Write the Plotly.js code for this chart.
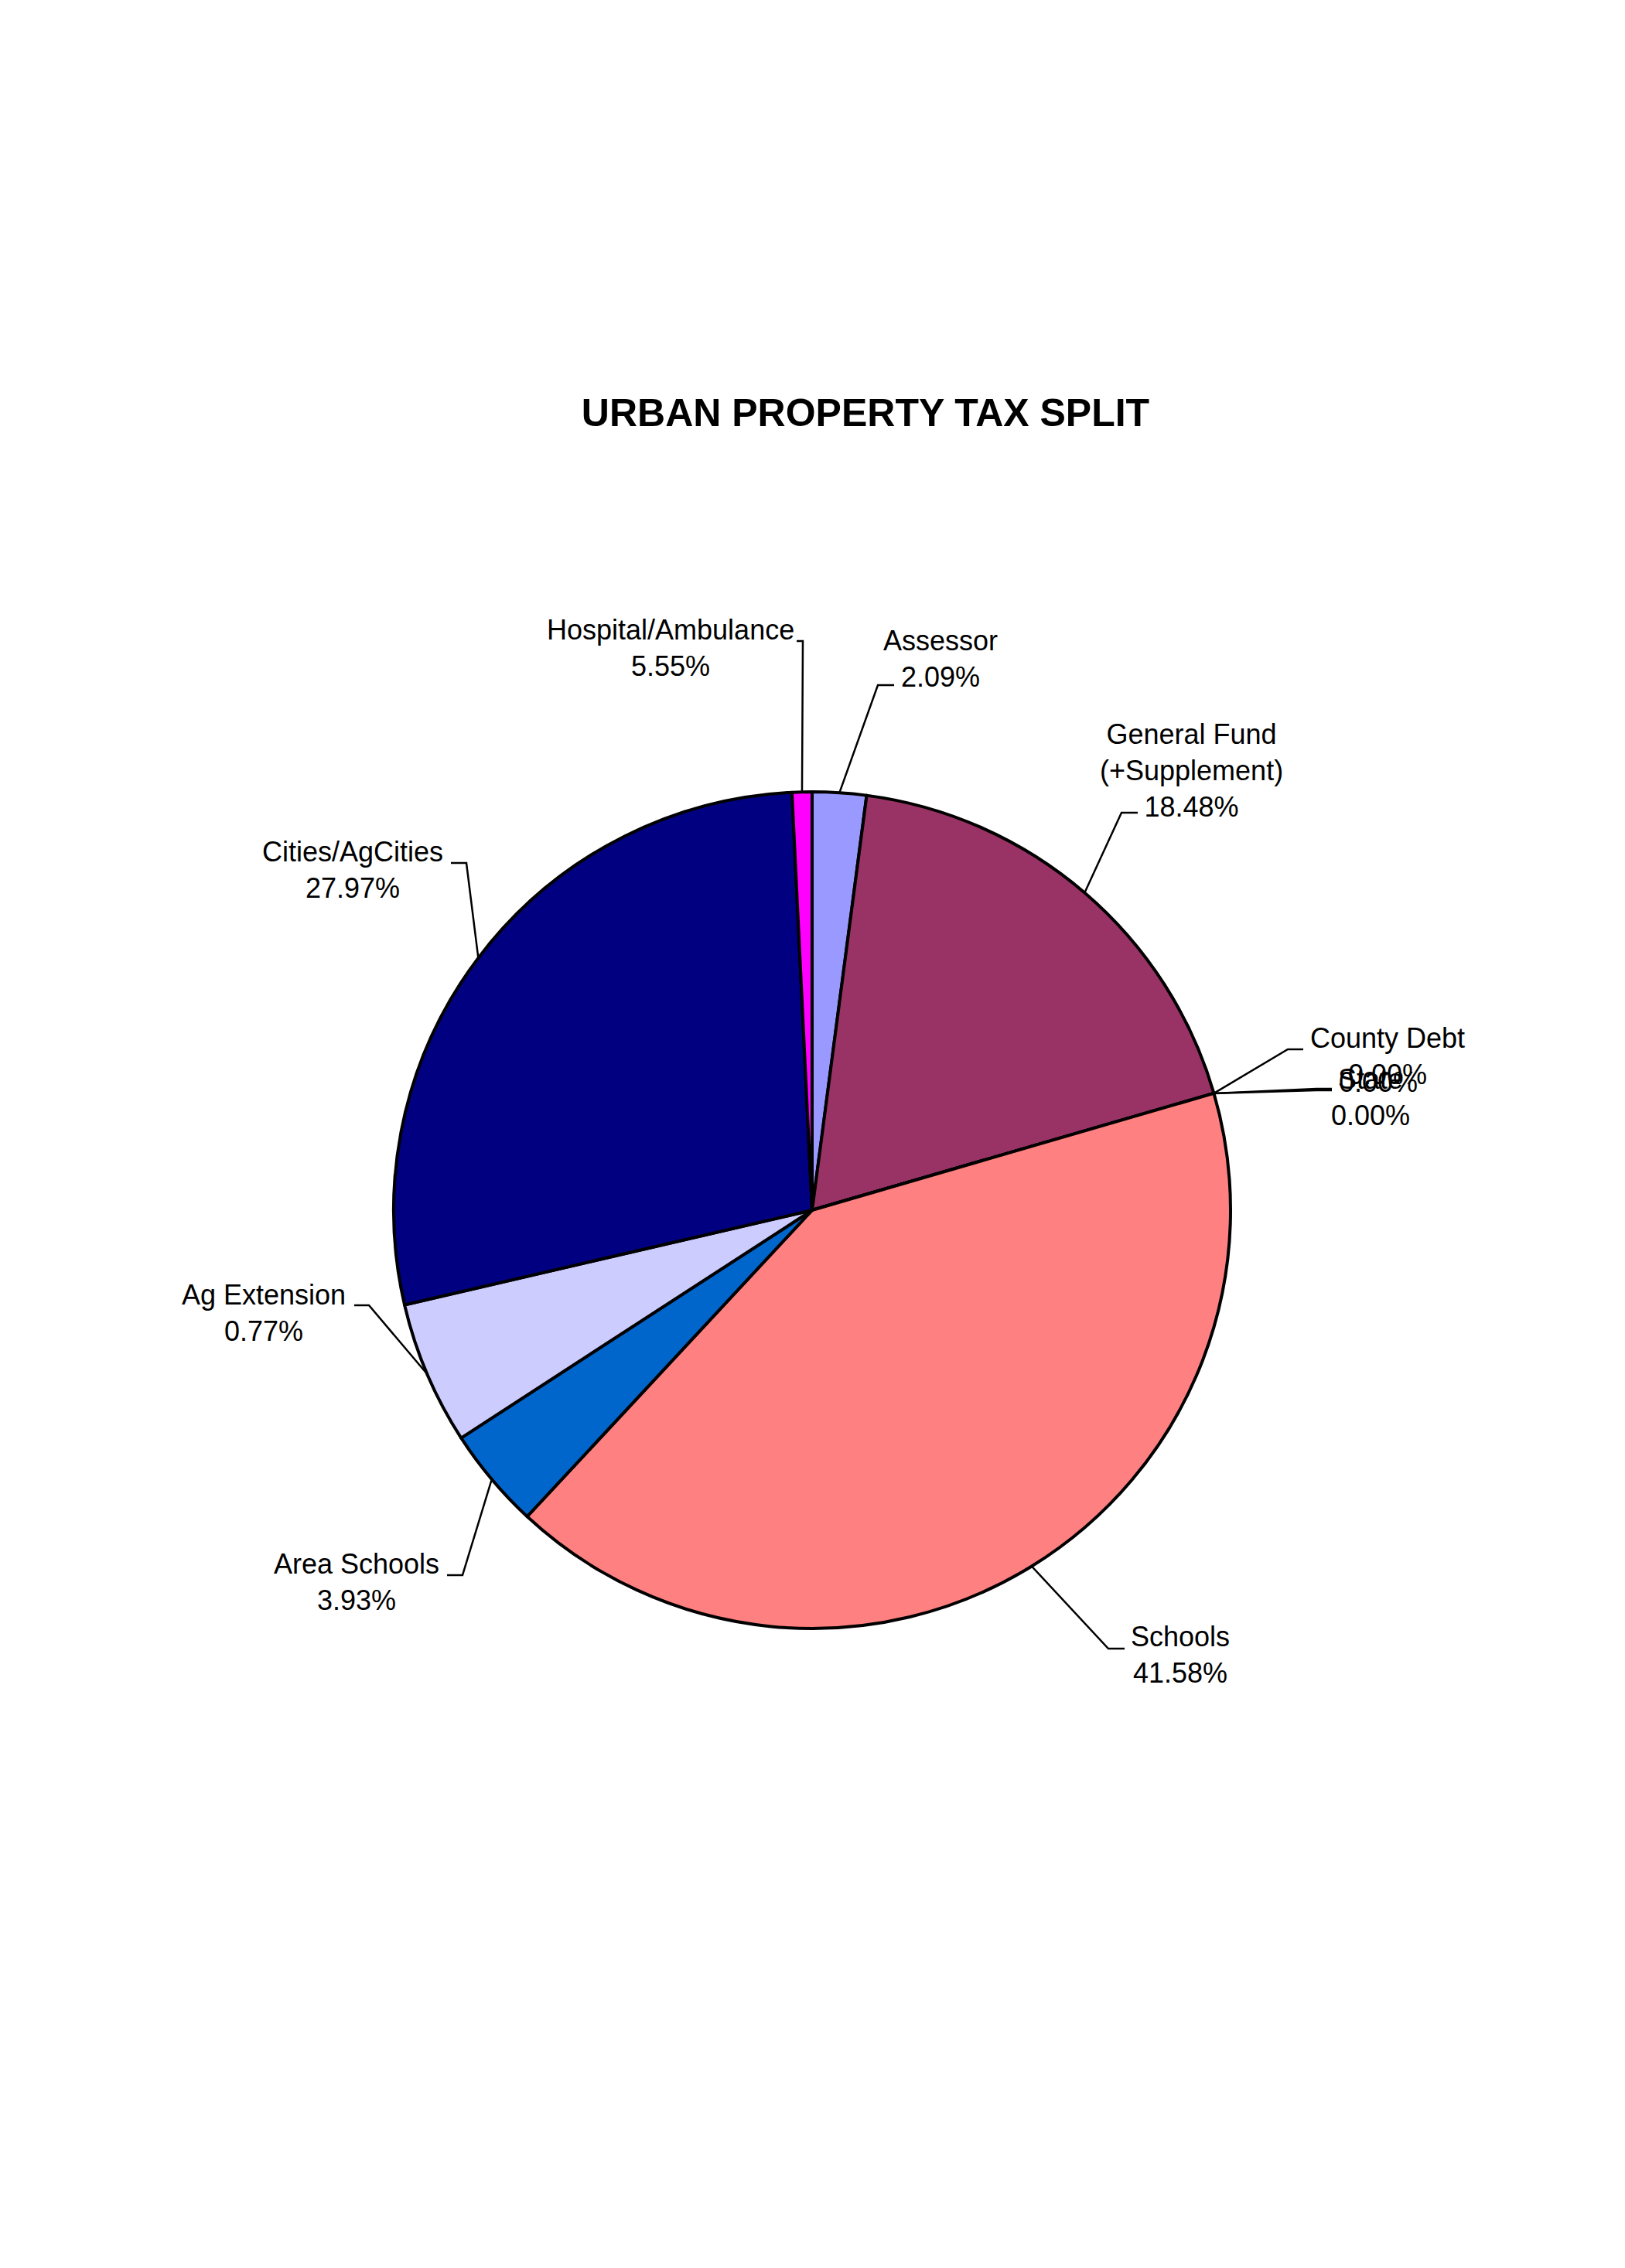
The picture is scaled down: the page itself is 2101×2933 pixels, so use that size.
<!DOCTYPE html>
<html>
<head>
<meta charset="utf-8">
<script src="https://cdn.plot.ly/plotly-3.0.1.min.js"></script>
<style>
  html, body { margin: 0; padding: 0; background: #ffffff; }
  #taxpie { width: 2101px; height: 2933px; }
</style>
</head>
<body>
<div id="taxpie"></div>
<script>
//          chart data (slice order, clockwise from 12 o'clock)
var names = ['Assessor', 'General Fund<br>(+Supplement)', 'County Debt', 'State', '',
             'Schools', 'Area Schools', 'Ag Extension', 'Cities/AgCities', 'Hospital/Ambulance'];
var shares = [2.09, 18.48, 0, 0, 0, 41.58, 3.93, 5.55, 27.97, 0.77];
// percentages as printed on the labels (two of them are swapped in the original)
var shownPct = ['2.09%', '18.48%', '0.00%', '0.00%', '0.00%',
                '41.58%', '3.93%', '0.77%', '27.97%', '5.55%'];
var colors = ['#9999FF', '#993366', '#FFFFCC', '#CCFFFF', '#660066',
              '#FF8080', '#0066CC', '#CCCCFF', '#000080', '#FF00FF'];

//          layout (pixels)
var W = 2101, H = 2933;
var cx = 1050, cy = 1565, R = 541;
var font = 'Liberation Sans, Arial, sans-serif';

// label block centre, leader elbow and leader end (at the text)
var labelAt = [[1216, 852], [1540, 996], [1794, 1366], [1772, 1419], [1782, 1400],
               [1526, 2140], [461, 2046], [341, 1698], [456, 1125], [867, 838]];
var elbowAt = [[1135, 886], [1450, 1051], [1665, 1357], [1702, 1410], [1702, 1408],
               [1433, 2132], [598, 2037], [477, 1688], [603, 1116], [1038, 829]];
var endAt   = [[1156, 886], [1471, 1051], [1685, 1357], [1722, 1410], [1722, 1408],
               [1454, 2132], [578, 2037], [458, 1688], [583, 1116], [1030, 829]];

function px(x) { return x / W; }
function py(y) { return 1 - y / H; }

var total = shares.reduce(function (a, b) { return a + b; }, 0);
var annotations = [];
var shapes = [];
var cum = 0;
for (var i = 0; i < shares.length; i++) {
  var mid = 2 * Math.PI * (cum + shares[i] / 2) / total;
  cum += shares[i];
  var ex = cx + R * Math.sin(mid);
  var ey = cy - R * Math.cos(mid);

  annotations.push({
    xref: 'paper', yref: 'paper',
    x: px(labelAt[i][0]), y: py(labelAt[i][1]),
    xanchor: 'center', yanchor: 'middle',
    text: names[i] ? names[i] + '<br>' + shownPct[i] : shownPct[i],
    showarrow: false, align: 'center',
    font: { family: font, size: 36, color: '#000000' }
  });

  shapes.push({
    type: 'path', xref: 'paper', yref: 'paper',
    path: 'M' + px(ex) + ',' + py(ey) +
          ' L' + px(elbowAt[i][0]) + ',' + py(elbowAt[i][1]) +
          ' L' + px(endAt[i][0]) + ',' + py(endAt[i][1]),
    line: { color: '#000000', width: 2.5 }
  });
}

var trace = {
  type: 'pie',
  labels: names.map(function (n, i) { return n || ('unnamed ' + i); }),
  values: shares,
  sort: false,
  direction: 'clockwise',
  rotation: 0,
  textinfo: 'none',
  hoverinfo: 'skip',
  showlegend: false,
  marker: { colors: colors, line: { color: '#000000', width: 4 } },
  domain: { x: [px(cx - R), px(cx + R)], y: [py(cy + R), py(cy - R)] }
};

var layout = {
  width: W, height: H,
  margin: { l: 0, r: 0, t: 0, b: 0 },
  paper_bgcolor: '#ffffff',
  showlegend: false,
  title: {
    text: 'URBAN PROPERTY TAX SPLIT',
    font: { family: font, size: 50, weight: 'bold', color: '#000000' },
    x: 1119 / W, xanchor: 'center',
    y: py(533), yanchor: 'middle'
  },
  annotations: annotations,
  shapes: shapes
};

Plotly.newPlot('taxpie', [trace], layout, { staticPlot: true, displayModeBar: false });
</script>
</body>
</html>
